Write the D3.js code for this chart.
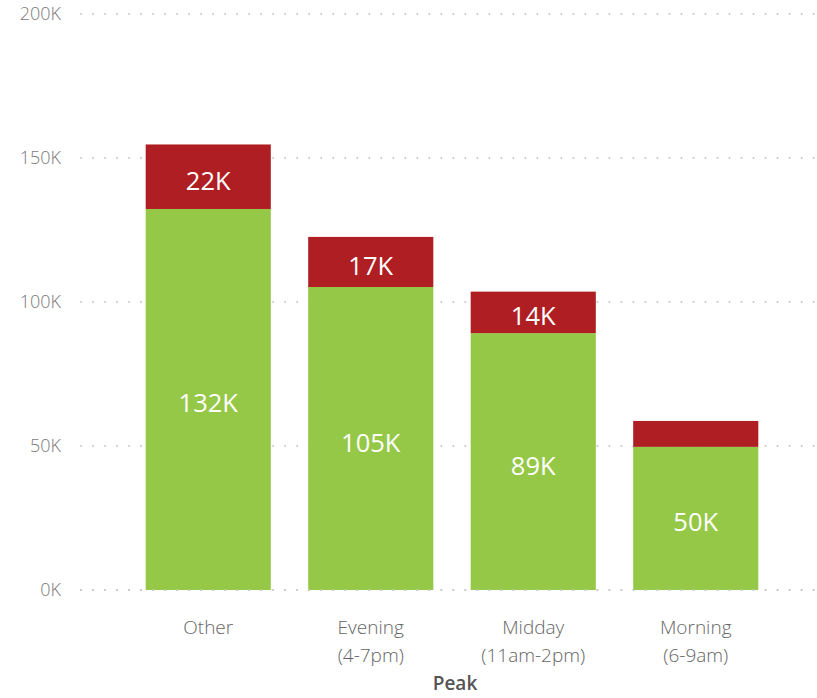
<!DOCTYPE html>
<html><head><meta charset="utf-8">
<script src="https://cdn.jsdelivr.net/npm/d3@7"></script>
<style>body{margin:0;background:#fff;} svg{display:block;}</style>
</head><body>
<svg id="c" width="817" height="698"></svg>
<script>
const categories = ["Other", "Evening\n(4-7pm)", "Midday\n(11am-2pm)", "Morning\n(6-9am)"];
const greenValues = [132.3, 105.2, 89.2, 49.7];
const redValues = [22.4, 17.4, 14.4, 9.0];
const yTicks = [0, 50, 100, 150, 200];
const colors = {green: "#95C847", red: "#AF1E23"};

const svg = d3.select("#c");
const font = "'Segoe UI', 'Open Sans', 'Noto Sans', sans-serif";
const y = d3.scaleLinear().domain([0, 200]).range([590, 14]);
const x = d3.scaleBand().domain(categories).range([127, 777]).paddingInner(0.23).paddingOuter(0.115);

// gridlines
const grid = svg.append("g");
yTicks.forEach(t => {
  grid.append("line").attr("x1", 81).attr("x2", 817).attr("y1", y(t)).attr("y2", y(t))
    .attr("stroke", "#c8c8c8").attr("stroke-width", 2).attr("stroke-linecap", "round")
    .attr("stroke-dasharray", "0.01 12");
});

// y axis
const yAxis = d3.axisLeft(y).tickValues(yTicks).tickFormat(d => d + "K").tickSize(0).tickPadding(0);
const ga = svg.append("g").attr("transform", "translate(61,0)").call(yAxis);
ga.attr("font-size", null).attr("font-family", null);
ga.select(".domain").remove();
ga.selectAll("text").style("font-family", font).style("font-size", "18px").style("fill", "#7a7a7a").style("font-weight", 300);

// stacked bars
const stackData = categories.map((c, i) => ({cat: c, green: greenValues[i], red: redValues[i]}));
const series = d3.stack().keys(["green", "red"])(stackData);
series.forEach(s => {
  svg.append("g").selectAll("rect").data(s).join("rect")
    .attr("x", d => x(d.data.cat)).attr("width", x.bandwidth())
    .attr("y", d => y(d[1])).attr("height", d => y(d[0]) - y(d[1]))
    .attr("fill", colors[s.key]);
});

// baseline dots over bars
svg.append("line").attr("x1", 81).attr("x2", 817).attr("y1", y(0)).attr("y2", y(0))
  .attr("stroke", "#c8c8c8").attr("stroke-width", 2).attr("stroke-linecap", "round")
  .attr("stroke-dasharray", "0.01 12");

// labels
series.forEach(s => {
  svg.append("g").selectAll("text").data(s.filter(d => (y(d[0]) - y(d[1])) > 35)).join("text")
    .attr("x", d => x(d.data.cat) + x.bandwidth() / 2)
    .attr("y", d => (y(d[0]) + y(d[1])) / 2 + 3)
    .attr("text-anchor", "middle").attr("dominant-baseline", "central")
    .attr("font-family", font).attr("font-size", 25.5).attr("font-weight", 400).attr("fill", "#fff")
    .text(d => Math.round(d[1] - d[0]) + "K");
});

// x axis labels
const xl = svg.append("g");
categories.forEach(c => {
  const lines = c.split("\n");
  const t = xl.append("text").attr("text-anchor", "middle").attr("font-family", font)
    .attr("font-size", 19).attr("fill", "#666").attr("font-weight", 300);
  lines.forEach((ln, i) => {
    t.append("tspan").attr("x", x(c) + x.bandwidth() / 2).attr("y", 634 + i * 28).text(ln);
  });
});

svg.append("text").attr("x", 455).attr("y", 690).attr("text-anchor", "middle")
  .attr("font-family", font).attr("font-size", 19).attr("font-weight", 600).attr("fill", "#555").text("Peak");
</script>
</body></html>
